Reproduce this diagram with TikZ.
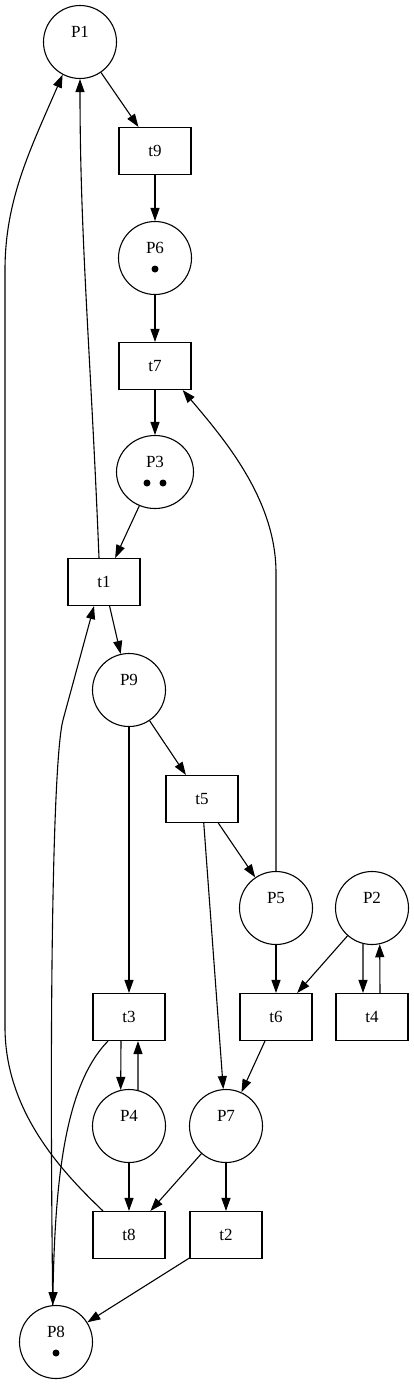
\documentclass[tikz,border=0pt]{standalone}
\usepackage{fontspec}
\setmainfont{Liberation Serif}
\usetikzlibrary{arrows.meta}
\usetikzlibrary{shapes.geometric}

\begin{document}
\begin{tikzpicture}[x=1pt,y=-1pt,line width=1.1pt,
	>={Triangle[length=13pt,width=9pt]},
	place/.style={circle,draw,minimum size=73pt,inner sep=0pt,text height=11pt,text depth=21pt,font=\fontsize{17}{19}\selectfont},
	trans/.style={rectangle,draw,minimum width=72pt,minimum height=47pt,inner sep=0pt,font=\fontsize{17}{19}\selectfont}]
	\useasboundingbox (0,0) rectangle (413,1384);
	% places and transitions
	\node[place] (p1) at (80,42) {P1};
	\node[trans] (t9) at (155,151) {t9};
	\node[place] (p6) at (155,258) {P6};
	\node[trans] (t7) at (155,366) {t7};
	\node[place,ellipse,minimum width=77pt] (p3) at (155,472) {P3};
	\node[trans] (t1) at (104,582) {t1};
	\node[place] (p9) at (129,690) {P9};
	\node[trans] (t5) at (202,799) {t5};
	\node[place] (p5) at (276,908) {P5};
	\node[place] (p2) at (372,908) {P2};
	\node[trans] (t3) at (129,1017) {t3};
	\node[trans] (t6) at (276,1017) {t6};
	\node[trans] (t4) at (372,1017) {t4};
	\node[place] (p4) at (129,1126) {P4};
	\node[place] (p7) at (226,1126) {P7};
	\node[trans] (t8) at (129,1235) {t8};
	\node[trans] (t2) at (226,1235) {t2};
	\node[place] (p8) at (56,1342) {P8};
	% tokens
	\fill ([yshift=-11pt]p6.center) circle[radius=3.5pt];
	\fill ([xshift=-8pt,yshift=-11pt]p3.center) circle[radius=3.5pt];
	\fill ([xshift=8pt,yshift=-11pt]p3.center) circle[radius=3.5pt];
	\fill ([yshift=-11pt]p8.center) circle[radius=3.5pt];
	% arcs
	\draw[->] (p1) -- (t9);
	\draw[->] (t9) -- (p6);
	\draw[->] (p6) -- (t7);
	\draw[->] (t7) -- (p3);
	\draw[->] (p3) -- (t1);
	\draw[->] ([xshift=-5pt]t1.north) .. controls +(-8,-200) and +(0,160) .. (p1.south);
	\draw[->] (t1) -- (p9);
	\draw[->] (p8.95) .. controls (49,1000) and (53,758) .. (63,720) -- ([xshift=-10pt]t1.south);
	\draw[->] ([xshift=-26pt]t8.north) .. controls (60,1170) and (5,1110) .. (5,1027)
		-- (5,270) .. controls (5,200) and (30,150) .. (p1.242);
	\draw[->] (p9) -- (t5);
	\draw[->] (p9) -- (t3);
	\draw[->] (t5) -- (p5);
	\draw[->] (t5) -- (p7);
	\draw[->] (p5.north) -- (276,573) .. controls (276,500) and (225,440) .. (t7.319);
	\draw[->] (p5) -- (t6);
	\draw[->] (p2) -- (t6);
	\draw[->] (p2.256) -- ([xshift=-9pt]t4.north);
	\draw[->] ([xshift=8pt]t4.north) -- (p2.282);
	\draw[->] ([xshift=-8pt]t3.south) -- (p4.103);
	\draw[->] (p4.76) -- ([xshift=9pt]t3.south);
	\draw[->] ([xshift=-21pt]t3.south) .. controls (65,1085) and (55,1180) .. (p8.95);
	\draw[->] (t6) -- (p7);
	\draw[->] (p4) -- (t8);
	\draw[->] (p7) -- (t8);
	\draw[->] (p7) -- (t2);
	\draw[->] (t2) -- (p8);
\end{tikzpicture}
\end{document}
